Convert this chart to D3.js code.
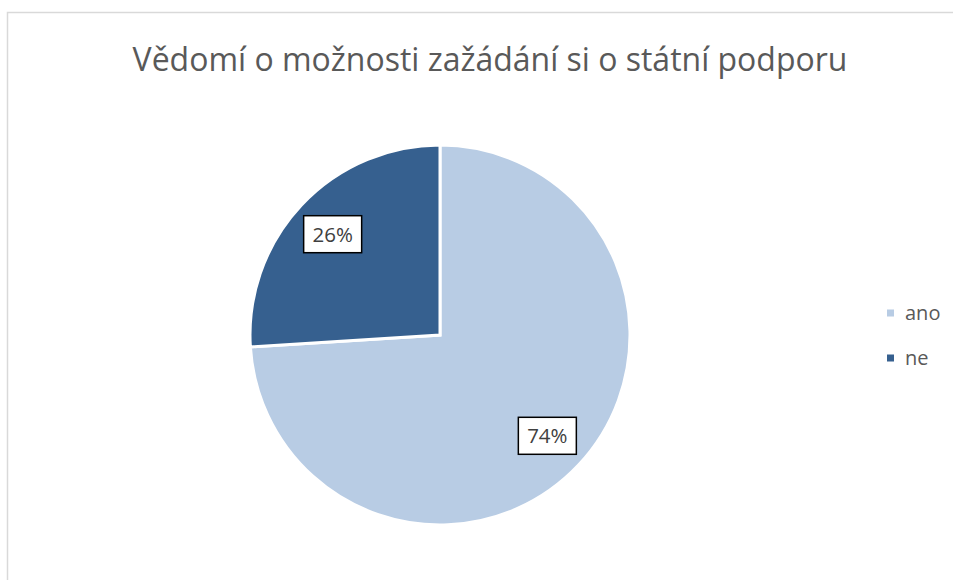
<!DOCTYPE html>
<html>
<head>
<meta charset="utf-8">
<script src="https://cdn.jsdelivr.net/npm/d3@7"></script>
<style>
  html, body { margin: 0; padding: 0; background: #fff; }
  svg { display: block; }
  text { font-family: "Open Sans", "Noto Sans", sans-serif; }
</style>
</head>
<body>
<svg id="chart" width="953" height="580"></svg>
<script>
const title = "Vědomí o možnosti zažádání si o státní podporu";
const categories = ["ano", "ne"];
const values = [74, 26];
const colors = ["#B8CCE4", "#36608F"];

const svg = d3.select("#chart");

// chart area border
svg.append("rect")
  .attr("x", 7.5).attr("y", 12.5)
  .attr("width", 960).attr("height", 600)
  .attr("fill", "#fff")
  .attr("stroke", "#D9D9D9").attr("stroke-width", 1.5);

// title, fitted to reference width
const t = svg.append("text")
  .attr("x", 490).attr("y", 71)
  .attr("text-anchor", "middle")
  .attr("fill", "#595959")
  .attr("font-size", 30)
  .text(title);
const targetW = 715;
const w0 = t.node().getComputedTextLength();
t.attr("font-size", 30 * targetW / w0);

// pie
const cx = 440, cy = 335, r = 190;
const data = categories.map((c, i) => ({ cat: c, value: values[i], color: colors[i] }));
const pie = d3.pie().sort(null).value(d => d.value);
const arcs = pie(data);
const arc = d3.arc().innerRadius(0).outerRadius(r);
const labelArc = d3.arc().innerRadius(r * 0.775).outerRadius(r * 0.775);

const g = svg.append("g").attr("transform", `translate(${cx},${cy})`);
g.selectAll("path.slice")
  .data(arcs)
  .join("path")
  .attr("class", "slice")
  .attr("d", arc)
  .attr("fill", d => d.data.color)
  .attr("stroke", "#fff")
  .attr("stroke-width", 3)
  .attr("stroke-linejoin", "miter");

const total = d3.sum(values);
const lbl = g.selectAll("g.lbl")
  .data(arcs)
  .join("g")
  .attr("class", "lbl")
  .attr("transform", d => `translate(${labelArc.centroid(d)})`);
lbl.append("rect")
  .attr("x", -29).attr("y", -18.5)
  .attr("width", 58).attr("height", 37)
  .attr("fill", "#fff")
  .attr("stroke", "#000").attr("stroke-width", 1.5);
lbl.append("text")
  .attr("text-anchor", "middle")
  .attr("dy", "0.36em")
  .attr("font-size", 20.5)
  .attr("fill", "#404040")
  .text(d => Math.round(d.data.value / total * 100) + "%");

// legend
const legend = svg.append("g").attr("transform", "translate(887,313)");
const li = legend.selectAll("g")
  .data(data)
  .join("g")
  .attr("transform", (d, i) => `translate(0,${i * 45})`);
li.append("rect")
  .attr("x", 0).attr("y", -3.5)
  .attr("width", 7).attr("height", 7)
  .attr("fill", d => d.color);
li.append("text")
  .attr("x", 18).attr("y", 0)
  .attr("dy", "0.36em")
  .attr("font-size", 20)
  .attr("fill", "#595959")
  .text(d => d.cat);
</script>
</body>
</html>
